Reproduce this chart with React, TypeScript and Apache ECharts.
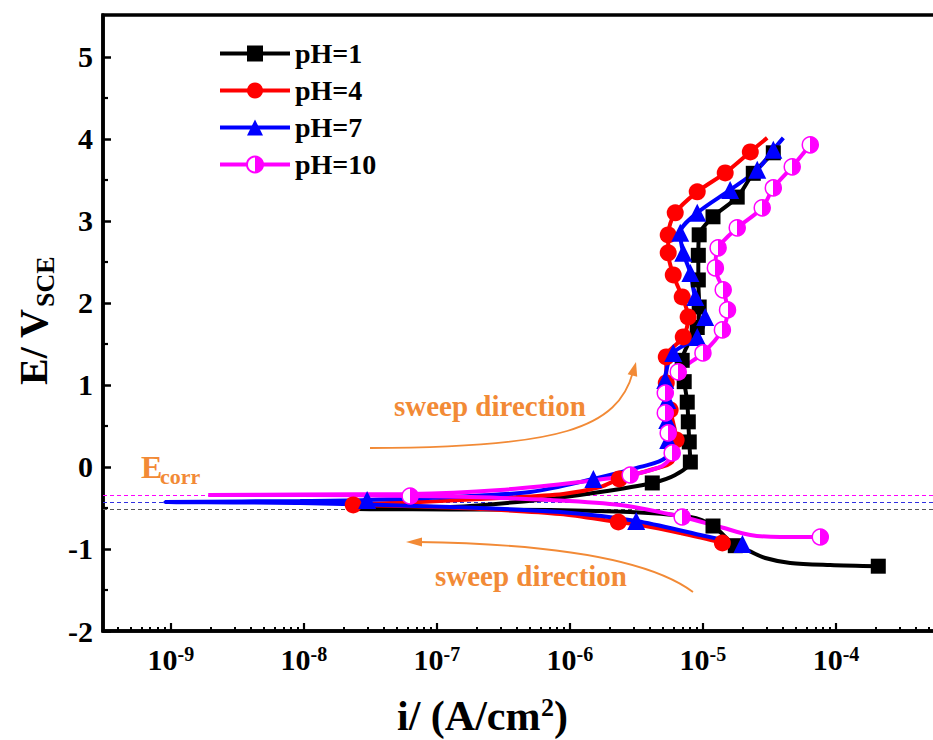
import React, { useEffect, useRef } from 'react';
import * as echarts from 'echarts';

const FONT = '"Liberation Serif", "Times New Roman", Times, serif';
const FAMILY = 'Liberation Serif';
const ORANGE = '#F28A36';

// ---- Data (current density in A/cm2, potential in V vs SCE, 1 = marker shown) ----
const ph1Current = [2.08e-4, 9.06e-5, 4.53e-5, 2.94e-5, 2.19e-5, 1.75e-5, 1.19e-5, 8.04e-6, 2.84e-6, 7.11e-7, 1.26e-7, 2.23e-8, 1.26e-7, 5.98e-7, 1.69e-6, 4.16e-6, 6.19e-6, 8.04e-6, 7.89e-6, 7.76e-6, 7.62e-6, 7.23e-6, 6.98e-6, 8.04e-6, 9.06e-6, 9.37e-6, 9.23e-6, 9.23e-6, 9.37e-6, 1.19e-5, 1.81e-5, 2.39e-5, 3.38e-5, 3.68e-5];
const ph1Potential = [-1.21, -1.195, -1.17, -1.11, -1.02, -0.96, -0.72, -0.61, -0.55, -0.524, -0.518, -0.512, -0.488, -0.40, -0.305, -0.195, -0.098, 0.06, 0.305, 0.55, 0.79, 1.04, 1.30, 1.55, 1.70, 1.95, 2.28, 2.58, 2.83, 3.05, 3.29, 3.58, 3.83, 3.89];
const ph1Marker = [1, 0, 0, 0, 0, 1, 1, 0, 0, 0, 0, 0, 0, 0, 0, 1, 0, 1, 1, 1, 1, 1, 1, 0, 1, 1, 1, 1, 1, 1, 1, 1, 1, 0];

const ph4Current = [1.60e-5, 1.40e-5, 6.75e-6, 3.38e-6, 2.31e-6, 8.45e-7, 2.12e-7, 5.30e-8, 2.35e-8, 7.48e-8, 2.99e-7, 8.91e-7, 1.69e-6, 2.35e-6, 4.02e-6, 5.87e-6, 6.29e-6, 5.67e-6, 5.30e-6, 5.30e-6, 7.11e-6, 7.74e-6, 6.98e-6, 5.98e-6, 5.48e-6, 5.48e-6, 6.19e-6, 9.06e-6, 1.47e-5, 2.27e-5, 3.04e-5];
const ph4Potential = [-0.976, -0.927, -0.805, -0.707, -0.671, -0.573, -0.512, -0.476, -0.463, -0.427, -0.378, -0.329, -0.244, -0.146, -0.037, 0.061, 0.329, 0.695, 1.024, 1.341, 1.585, 1.829, 2.073, 2.341, 2.610, 2.829, 3.098, 3.354, 3.585, 3.841, 4.012];
const ph4Marker = [0, 1, 0, 0, 1, 0, 0, 0, 1, 0, 0, 0, 0, 1, 0, 0, 1, 1, 1, 1, 1, 1, 1, 1, 1, 1, 1, 1, 1, 1, 0];

const ph7Current = [1.98e-5, 9.55e-6, 3.15e-6, 8.45e-7, 1.26e-7, 9.38e-9, 9.06e-10, 9.38e-9, 2.99e-8, 1.26e-7, 5.04e-7, 1.50e-6, 3.38e-6, 5.21e-6, 5.48e-6, 5.39e-6, 5.39e-6, 5.21e-6, 5.98e-6, 9.06e-6, 1.04e-5, 8.75e-6, 8.04e-6, 7.11e-6, 6.75e-6, 9.06e-6, 1.60e-5, 2.56e-5, 3.38e-5, 4.02e-5];
const ph7Potential = [-0.939, -0.829, -0.659, -0.549, -0.488, -0.439, -0.427, -0.415, -0.402, -0.366, -0.305, -0.146, 0.0, 0.110, 0.329, 0.573, 0.817, 1.061, 1.390, 1.585, 1.829, 2.073, 2.366, 2.610, 2.854, 3.098, 3.378, 3.622, 3.866, 4.012];
const ph7Marker = [1, 0, 1, 0, 0, 0, 0, 0, 1, 0, 0, 1, 0, 0, 1, 1, 1, 1, 1, 1, 1, 1, 1, 1, 1, 1, 1, 1, 1, 0];

const ph10Current = [7.62e-5, 3.81e-5, 2.27e-5, 1.35e-5, 6.98e-6, 2.39e-6, 7.11e-7, 1.78e-7, 6.29e-8, 9.38e-9, 1.91e-9, 9.38e-9, 6.29e-8, 2.99e-7, 1.19e-6, 2.84e-6, 4.94e-6, 5.87e-6, 5.48e-6, 5.21e-6, 5.21e-6, 6.52e-6, 1.00e-5, 1.40e-5, 1.53e-5, 1.42e-5, 1.24e-5, 1.30e-5, 1.81e-5, 2.79e-5, 3.38e-5, 4.69e-5, 6.41e-5];
const ph10Potential = [-0.854, -0.854, -0.829, -0.732, -0.610, -0.463, -0.402, -0.366, -0.354, -0.341, -0.341, -0.335, -0.329, -0.280, -0.183, -0.098, 0.012, 0.171, 0.415, 0.659, 0.902, 1.159, 1.390, 1.671, 1.915, 2.159, 2.427, 2.671, 2.915, 3.159, 3.402, 3.659, 3.927];
const ph10Marker = [1, 0, 0, 0, 1, 0, 0, 0, 1, 0, 0, 0, 0, 0, 0, 1, 0, 1, 1, 1, 1, 1, 1, 1, 1, 1, 1, 1, 1, 1, 1, 1, 1];

// Corrosion potentials (dashed guide lines)
const ecorrPH1 = -0.512;
const ecorrPH7 = -0.427;
const ecorrPH10 = -0.341;

// Axes
const X_MIN = Math.pow(10, -9.51);
const X_MAX = 1e-3;
const Y_MIN = -2;
const Y_MAX = 5.51;
const yMajorTicks = [-2, -1, 0, 1, 2, 3, 4, 5];
const yMinorTicks = [-1.5, -0.5, 0.5, 1.5, 2.5, 3.5, 4.5];
const xMajorTicks = [1e-9, 1e-8, 1e-7, 1e-6, 1e-5, 1e-4, 1e-3];
const xLabelTicks = [1e-9, 1e-8, 1e-7, 1e-6, 1e-5, 1e-4];
const xMinorMultipliers = [2, 3, 4, 5, 6, 7, 8, 9];
const xMinorDecades = [-10, -9, -8, -7, -6, -5, -4];

function buildData(cur: number[], pot: number[], mk: number[]) {
  return cur.map((c, i) =>
    mk[i] ? { value: [c, pot[i]] } : { value: [c, pot[i]], symbol: 'none' }
  );
}

function dashLine(value: number, color: string) {
  return {
    silent: true,
    z: 1,
    symbol: ['none', 'none'],
    label: { show: false },
    emphasis: { disabled: true },
    lineStyle: { color, type: [4, 3], width: 1.2 },
    data: [{ yAxis: value }],
  };
}

function txt(text: string, x: number, y: number, size: number, fill: string, align = 'left', rotation = 0) {
  return {
    type: 'text',
    x,
    y,
    rotation,
    z: 100,
    style: {
      text,
      fill,
      font: `bold ${size}px ${FONT}`,
      textAlign: align,
      align,
      textVerticalAlign: 'middle',
      verticalAlign: 'middle',
    },
  };
}

export default function App() {
  const ref = useRef<HTMLDivElement>(null);

  useEffect(() => {
    document.body.style.margin = '0';
    if (!ref.current) return;
    const chart = echarts.init(ref.current, null, { renderer: 'svg' });

    const xMinorTicks: number[] = [];
    xMinorDecades.forEach((d) => {
      xMinorMultipliers.forEach((k) => {
        const v = k * Math.pow(10, d);
        if (v > X_MIN && v < X_MAX) xMinorTicks.push(v);
      });
    });

    const halfFill = new echarts.graphic.LinearGradient(0, 0, 1, 0, [
      { offset: 0, color: '#ffffff' },
      { offset: 0.5, color: '#ffffff' },
      { offset: 0.5, color: '#FF00FF' },
      { offset: 1, color: '#FF00FF' },
    ]);

    const option: any = {
      animation: false,
      backgroundColor: '#ffffff',
      textStyle: { fontFamily: FAMILY },
      grid: {
        left: 103,
        top: 15,
        width: 866,
        height: 616,
        show: true,
        borderColor: '#000',
        borderWidth: 3.5,
        backgroundColor: 'transparent',
        containLabel: false,
        outerBoundsMode: 'none',
      },
      legend: {
        left: 218,
        top: 39.5,
        padding: 0,
        orient: 'vertical',
        itemWidth: 70,
        itemHeight: 20,
        itemGap: 9,
        selectedMode: false,
        lineStyle: { width: 4 },
        textStyle: { fontFamily: FAMILY, fontWeight: 'bold', fontSize: 28, color: '#000' },
        data: ['pH=1', 'pH=4', 'pH=7', 'pH=10'],
      },
      xAxis: [
        {
          type: 'log',
          logBase: 10,
          gridIndex: 0,
          position: 'bottom',
          min: X_MIN,
          max: X_MAX,
          axisLine: { show: true, onZero: false, lineStyle: { color: '#000', width: 3.5 } },
          axisTick: {
            show: true,
            inside: true,
            length: 8,
            lineStyle: { color: '#000', width: 2.2 },
            customValues: xMajorTicks,
          },
          axisLabel: {
            show: true,
            margin: 13,
            customValues: xLabelTicks,
            fontFamily: FAMILY,
            formatter: (v: number) => `{b|10}{s|${Math.round(Math.log10(v))}}`,
            rich: {
              b: { fontFamily: FAMILY, fontWeight: 'bold', fontSize: 30, color: '#000', verticalAlign: 'bottom' },
              s: { fontFamily: FAMILY, fontWeight: 'bold', fontSize: 20, color: '#000', verticalAlign: 'top' },
            },
          },
          splitLine: { show: false },
        },
        {
          type: 'log',
          logBase: 10,
          gridIndex: 0,
          position: 'bottom',
          min: X_MIN,
          max: X_MAX,
          axisLine: { show: false, onZero: false },
          axisTick: {
            show: true,
            inside: true,
            length: 4,
            lineStyle: { color: '#000', width: 2 },
            customValues: xMinorTicks,
          },
          axisLabel: { show: false },
          splitLine: { show: false },
        },
      ],
      yAxis: [
        {
          type: 'value',
          gridIndex: 0,
          position: 'left',
          min: Y_MIN,
          max: Y_MAX,
          interval: 1,
          axisLine: { show: true, onZero: false, lineStyle: { color: '#000', width: 3.5 } },
          axisTick: {
            show: true,
            inside: true,
            length: 8,
            lineStyle: { color: '#000', width: 2.5 },
            customValues: yMajorTicks,
          },
          axisLabel: {
            fontFamily: FAMILY,
            fontWeight: 'bold',
            fontSize: 30,
            color: '#000',
            margin: 10,
            customValues: yMajorTicks,
          },
          splitLine: { show: false },
        },
        {
          type: 'value',
          gridIndex: 0,
          position: 'left',
          min: Y_MIN,
          max: Y_MAX,
          interval: 1,
          axisLine: { show: false, onZero: false },
          axisTick: {
            show: true,
            inside: true,
            length: 5,
            lineStyle: { color: '#000', width: 2.2 },
            customValues: yMinorTicks,
          },
          axisLabel: { show: false },
          splitLine: { show: false },
        },
      ],
      series: [
        {
          name: 'pH=1',
          type: 'line',
          xAxisIndex: 0,
          yAxisIndex: 0,
          data: buildData(ph1Current, ph1Potential, ph1Marker),
          symbol: 'rect',
          symbolSize: 15,
          showSymbol: true,
          showAllSymbol: true,
          smooth: 0.3,
          lineStyle: { color: '#000000', width: 4 },
          itemStyle: { color: '#000000' },
          emphasis: { disabled: true },
          markLine: dashLine(ecorrPH1, '#555555'),
        },
        {
          name: 'pH=4',
          type: 'line',
          xAxisIndex: 0,
          yAxisIndex: 0,
          data: buildData(ph4Current, ph4Potential, ph4Marker),
          symbol: 'circle',
          symbolSize: 17,
          showSymbol: true,
          showAllSymbol: true,
          smooth: 0.3,
          lineStyle: { color: '#FF0000', width: 4 },
          itemStyle: { color: '#FF0000' },
          emphasis: { disabled: true },
        },
        {
          name: 'pH=7',
          type: 'line',
          xAxisIndex: 0,
          yAxisIndex: 0,
          data: buildData(ph7Current, ph7Potential, ph7Marker),
          symbol: 'triangle',
          symbolSize: 18,
          showSymbol: true,
          showAllSymbol: true,
          smooth: 0.3,
          lineStyle: { color: '#0000FF', width: 4 },
          itemStyle: { color: '#0000FF' },
          emphasis: { disabled: true },
          markLine: dashLine(ecorrPH7, '#3030E0'),
        },
        {
          name: 'pH=10',
          type: 'line',
          xAxisIndex: 0,
          yAxisIndex: 0,
          data: buildData(ph10Current, ph10Potential, ph10Marker),
          symbol: 'circle',
          symbolSize: 16,
          showSymbol: true,
          showAllSymbol: true,
          smooth: 0.3,
          lineStyle: { color: '#FF00FF', width: 4 },
          itemStyle: { color: halfFill, borderColor: '#FF00FF', borderWidth: 1.5 },
          emphasis: { disabled: true },
          markLine: dashLine(ecorrPH10, '#FF00FF'),
        },
      ],
      graphic: [
        // Y axis title
        txt('E/ V', 33, 385, 40, '#000', 'left', Math.PI / 2),
        txt('SCE', 45, 307, 26, '#000', 'left', Math.PI / 2),
        // X axis title
        txt('i/ (A/cm', 397, 716, 42, '#000'),
        txt('2', 541, 707, 26, '#000'),
        txt(')', 554, 716, 42, '#000'),
        // E_corr label
        txt('E', 141, 467, 32, ORANGE),
        txt('corr', 160, 476, 22, ORANGE),
        // Sweep direction labels
        txt('sweep direction', 490, 406, 29, ORANGE, 'center'),
        txt('sweep direction', 531, 576, 29, ORANGE, 'center'),
        // Upper arrow
        {
          type: 'bezierCurve',
          z: 100,
          shape: { x1: 370, y1: 448, cpx1: 560, cpy1: 448, cpx2: 618, cpy2: 428, x2: 633, y2: 372 },
          style: { stroke: ORANGE, lineWidth: 1.8, fill: null },
        },
        {
          type: 'polygon',
          z: 100,
          shape: { points: [[636, 362], [637.2, 376.8], [627.6, 374.2]] },
          style: { fill: ORANGE },
        },
        // Lower arrow
        {
          type: 'bezierCurve',
          z: 100,
          shape: { x1: 693, y1: 592, cpx1: 650, cpy1: 560, cpx2: 560, cpy2: 544, x2: 418, y2: 542 },
          style: { stroke: ORANGE, lineWidth: 1.8, fill: null },
        },
        {
          type: 'polygon',
          z: 100,
          shape: { points: [[406, 542], [422, 537.5], [422, 546.5]] },
          style: { fill: ORANGE },
        },
      ],
    };

    chart.setOption(option);
    return () => {
      chart.dispose();
    };
  }, []);

  return (
    <div
      ref={ref}
      style={{ position: 'absolute', left: 0, top: 0, width: 933, height: 740, background: '#fff' }}
    />
  );
}
